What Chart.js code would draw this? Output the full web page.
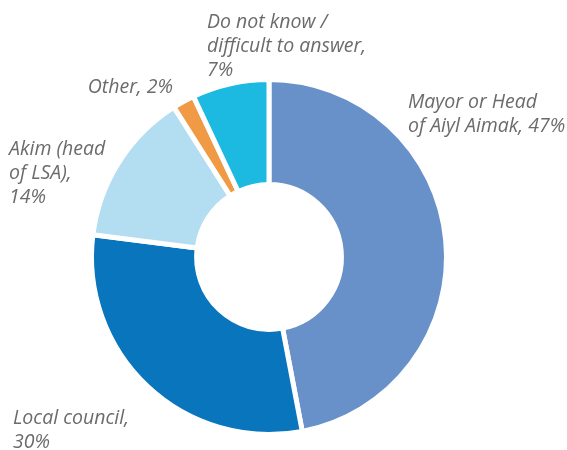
<!DOCTYPE html>
<html>
<head>
<meta charset="utf-8">
<script src="https://cdn.jsdelivr.net/npm/chart.js@4"></script>
<style>
  html, body { margin: 0; padding: 0; background: #ffffff; }
  #wrap { width: 567px; height: 450px; position: relative; }
</style>
</head>
<body>
<div id="wrap"><canvas id="c"></canvas></div>
<script>
// Who respondents turn to: share of answers
const categories = ['Mayor or Head of Aiyl Aimak', 'Local council', 'Akim (head of LSA)', 'Other', 'Do not know / difficult to answer'];
const shares = [47, 30, 14, 2, 7];
const sliceColors = ['#6891c9', '#0975bd', '#b3ddf0', '#f19a45', '#1cb9e0'];

// Label lines per slice
const labelLines = [
  ['Mayor or Head', 'of Aiyl Aimak, 47%'],
  ['Local council,', '30%'],
  ['Akim (head', 'of LSA),', '14%'],
  ['Other, 2%'],
  ['Do not know /', 'difficult to answer,', '7%']
];
// First-baseline position of each label block, relative to the ring centre
const labelAnchors = [
  { dx: 139, dy: -149, align: 'left' },
  { dx: -256, dy: 167, align: 'left' },
  { dx: -260, dy: -102, align: 'left' },
  { dx: -96, dy: -164, align: 'right' },
  { dx: -62, dy: -229, align: 'left' }
];

const sliceLabels = {
  id: 'sliceLabels',
  afterDraw(chart) {
    const arc = chart.getDatasetMeta(0).data[0];
    if (!arc) return;
    const { x, y } = arc.getProps(['x', 'y'], true);
    const ctx = chart.ctx;
    ctx.save();
    ctx.font = 'italic 19.5px "Open Sans"';
    ctx.fillStyle = '#6b6b6d';
    ctx.textBaseline = 'alphabetic';
    labelLines.forEach((lines, i) => {
      const a = labelAnchors[i];
      ctx.textAlign = a.align;
      lines.forEach((t, j) => ctx.fillText(t, x + a.dx, y + a.dy + j * 24));
    });
    ctx.restore();
  }
};

new Chart(document.getElementById('c'), {
  type: 'doughnut',
  data: {
    labels: categories,
    datasets: [{
      data: shares,
      backgroundColor: sliceColors,
      borderColor: '#ffffff',
      borderWidth: 5,
      borderAlign: 'center'
    }]
  },
  options: {
    responsive: true,
    maintainAspectRatio: false,
    animation: false,
    cutout: '40.8%',
    layout: { padding: { top: 77, bottom: 13, left: 89, right: 118 } },
    plugins: {
      legend: { display: false },
      tooltip: { enabled: false }
    }
  },
  plugins: [sliceLabels]
});
</script>
</body>
</html>
